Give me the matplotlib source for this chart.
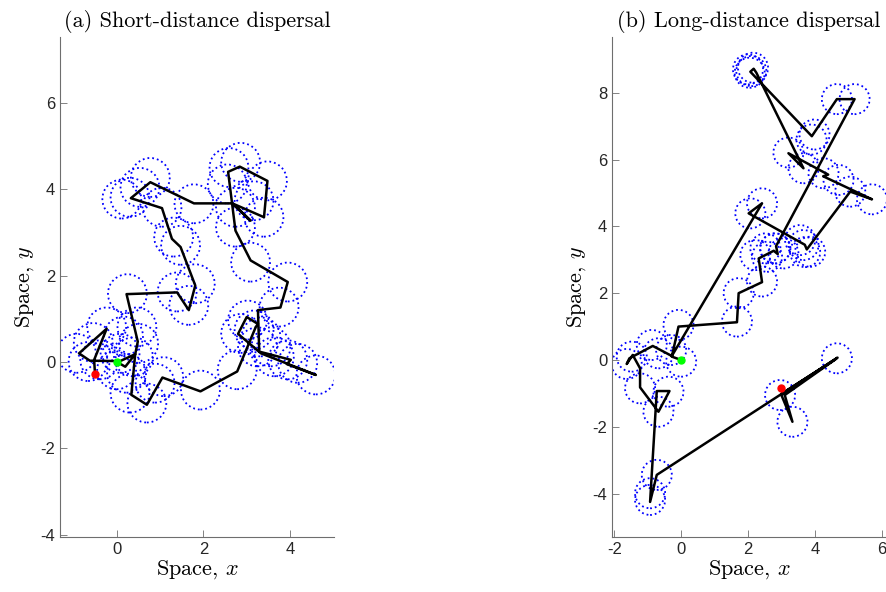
import numpy as np
import matplotlib.pyplot as plt
from matplotlib.patches import Circle

# (a) short-distance dispersal: path of the centre and positions of the colonies
path_a_x = [0.0, 0.19, 0.42, 0.33, 0.69, 1.05, 1.93, 2.78, 3.21, 3.26, 3.00, 2.80, 3.33, 4.60,
            3.93, 4.02, 3.29, 3.26, 3.78, 3.95, 3.09, 2.74, 2.57, 2.84, 3.48, 3.40, 2.69, 3.09,
            2.66, 1.78, 0.77, 0.32, 1.04, 1.27, 1.47, 1.81, 1.66, 1.39, 0.22, 0.48, 0.42, 0.07,
            -0.63, -0.88, -0.24, -0.53, -0.51]
path_a_y = [0.0, -0.11, 0.18, -0.76, -0.99, -0.36, -0.68, -0.22, 0.81, 0.88, 1.04, 0.65, 0.20, -0.30,
            -0.05, 0.05, 0.24, 1.20, 1.26, 1.85, 2.35, 3.04, 4.40, 4.52, 4.19, 3.35, 3.66, 3.27,
            3.67, 3.67, 4.16, 3.79, 3.56, 2.85, 2.66, 1.77, 1.20, 1.61, 1.57, 0.47, 0.18, 0.02,
            0.03, 0.20, 0.77, 0.05, -0.28]
circ_a_x = [-0.94, -0.67, -0.40, -0.24, 0.07, -0.01, 0.22, 0.24, 0.46, 0.50, 0.38, 0.30, 0.69,
            0.88, 1.08, 1.93, 2.78, 1.39, 1.66, 1.81, 3.95, 3.09, 3.75, 3.02, 3.17, 2.86, 3.33,
            3.25, 3.56, 3.64, 3.95, 4.18, 4.60, 2.74, 2.74, 3.17, 3.40, 3.48, 2.86, 2.59, 2.55,
            1.78, 1.47, 1.31, 1.04, 0.77, 0.53, 0.30, 0.11, -0.55, 0.15]
circ_a_y = [0.20, 0.01, 0.05, 0.81, 0.20, -0.18, -0.26, 1.58, 0.81, 0.43, 0.12, -0.72, -0.95,
            -0.49, -0.34, -0.65, -0.18, 1.62, 1.31, 1.81, 1.85, 2.31, 1.27, 0.97, 0.74, 0.66, 0.58,
            0.35, 0.35, 0.12, 0.05, -0.03, -0.30, 3.12, 3.58, 3.73, 3.35, 4.19, 4.62, 4.50, 4.12,
            3.66, 2.70, 2.89, 3.58, 4.27, 4.04, 3.81, 3.77, 0.45, 0.60]

# (b) long-distance dispersal
path_b_x = [0.0, -0.28, -0.08, 1.67, 1.72, 2.42, 2.32, 2.77, 2.89, 2.84, 5.19, 4.66, 3.91, 2.07,
            2.17, 2.25, 3.66, 3.21, 4.40, 4.25, 5.71, 5.06, 3.76, 3.70, 2.02, 2.42, -0.28, -0.85,
            -1.55, -1.63, -1.45, -1.23, -1.23, -0.68, -0.35, -0.73, -0.93, -0.73, 4.68, 3.00,
            3.33, 3.10, 4.62, 3.02]
path_b_y = [0.0, 0.10, 1.00, 1.13, 2.00, 2.33, 3.04, 3.27, 3.17, 3.41, 7.81, 7.81, 6.70, 8.63,
            8.72, 8.60, 5.74, 6.19, 5.55, 5.50, 4.81, 5.04, 3.31, 3.45, 4.39, 4.69, 0.12, 0.42,
            0.05, -0.12, 0.15, -0.25, -0.82, -1.55, -0.93, -0.93, -4.25, -3.44, 0.07, -1.05,
            -1.85, -1.05, 0.02, -1.00]
circ_b_x = [2.00, 2.10, 2.15, 2.05, 4.66, 5.19, 3.99, 3.90, 3.21, 3.66, 4.26, 4.71, 5.06, 5.71,
            2.07, 2.42, 2.81, 2.57, 3.56, 3.71, 2.22, 2.52, 2.82, 3.06, 3.66, 3.86, 2.42, 1.72,
            1.67, -0.08, 0.0, -0.68, -0.88, -1.48, -1.63, -1.23, -0.38, -0.68, -0.73, -0.93,
            -0.93, 4.66, 2.96, 3.33, -0.30]
circ_b_y = [8.70, 8.65, 8.75, 8.60, 7.81, 7.81, 6.75, 6.60, 6.21, 5.74, 5.59, 5.39, 5.04, 4.81,
            4.39, 4.69, 3.34, 3.09, 3.59, 3.23, 3.14, 3.34, 3.34, 3.19, 3.44, 3.24, 2.35, 2.00,
            1.15, 1.05, -0.05, 0.20, 0.45, 0.10, -0.12, -0.85, -0.95, -1.55, -3.44, -3.99,
            -4.19, 0.05, -1.05, -1.85, 0.30]
end_b = (2.98, -0.83)
end_a = (-0.51, -0.28)

radius = 0.45

plt.rcParams['mathtext.fontset'] = 'cm'
tick_font = 'Liberation Sans'
cm_font = 'cmr10'

fig = plt.figure(figsize=(8.86, 5.92), dpi=100)
ax1 = fig.add_axes([60/886, 55/592, 274/886, 500/592])
ax2 = fig.add_axes([612/886, 55/592, 274/886, 500/592])


def draw(ax, px, py, cx, cy, end, title):
    for x, y in zip(cx, cy):
        ax.add_patch(Circle((x, y), radius, fill=False, ec=(0, 0, 1), ls=':', lw=1.3))
    ax.plot(px, py, color='k', lw=1.8, zorder=3)
    ax.plot(px[0], py[0], 'o', color=(0, 1, 0), ms=5, zorder=4)
    ax.plot(end[0], end[1], 'o', color=(1, 0, 0), ms=5, zorder=4)
    ax.set_title(title, family=cm_font, fontsize=16, pad=7)
    ax.set_xlabel('Space, $x$', family=cm_font, fontsize=16, labelpad=1)
    ax.set_ylabel('Space, $y$', family=cm_font, fontsize=16, labelpad=3)
    for s in ['top', 'right']:
        ax.spines[s].set_visible(False)
    for s in ['left', 'bottom']:
        ax.spines[s].set_color('#6e6e6e')
        ax.spines[s].set_linewidth(0.8)
    ax.tick_params(direction='in', length=5, width=0.6, color='#6e6e6e',
                   labelsize=12, labelcolor='#262626')


ax1.set_xlim(-1.32, 5.02)
ax1.set_ylim(-4.05, 7.52)
ax1.set_xticks([0, 2, 4])
ax1.set_yticks([-4, -2, 0, 2, 4, 6])
draw(ax1, path_a_x, path_a_y, circ_a_x, circ_a_y, end_a, '(a) Short-distance dispersal')

ax2.set_xlim(-2.07, 6.13)
ax2.set_ylim(-5.3, 9.67)
ax2.set_xticks([-2, 0, 2, 4, 6])
ax2.set_yticks([-4, -2, 0, 2, 4, 6, 8])
draw(ax2, path_b_x, path_b_y, circ_b_x, circ_b_y, end_b, '(b) Long-distance dispersal')

for ax in (ax1, ax2):
    ax.set_xticklabels([str(t) for t in ax.get_xticks().astype(int)], family=tick_font)
    ax.set_yticklabels([str(t) for t in ax.get_yticks().astype(int)], family=tick_font)

fig.savefig('out.png', dpi=100)
